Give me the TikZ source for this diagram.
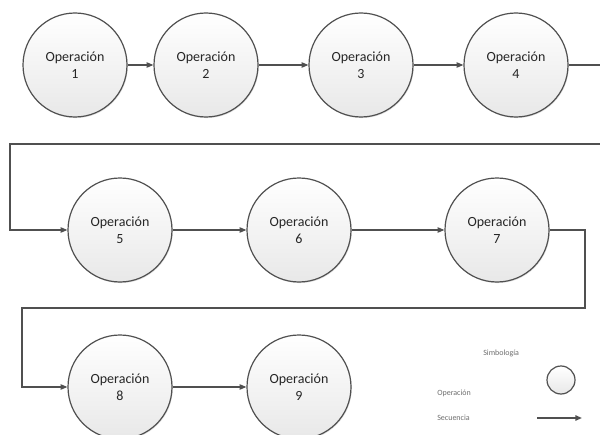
\documentclass[tikz,border=0pt]{standalone}
\usepackage{fontspec}
\setmainfont{Carlito}
\definecolor{edgegray}{RGB}{80,80,80}
\definecolor{fillgray}{RGB}{232,232,232}
\definecolor{legendgray}{RGB}{110,110,110}
\usetikzlibrary{positioning, arrows.meta, shadows}

\begin{document}
\begin{tikzpicture}[
    x=0.75pt, y=-0.75pt,
    oper/.style={circle, draw=edgegray, line width=0.9pt, top color=white, bottom color=fillgray,
      drop shadow={shadow xshift=0.6pt, shadow yshift=-0.8pt, fill=black!25},
      minimum size=78pt, inner sep=0pt, align=center, font=\fontsize{10.5}{12.5}\selectfont, text=black!85},
    seq/.style={draw=edgegray, line width=0.8pt, -{Triangle[length=5pt, width=4pt]}},
    legtext/.style={font=\fontsize{6}{7}\selectfont, text=legendgray, anchor=west, inner sep=0pt},
  ]
    \useasboundingbox (0,0) rectangle (600,435);
    % first row
    \node[oper] (c1) at (75, 65) {Operación\\1};
    \node[oper] (c2) at (206, 65) {Operación\\2};
    \node[oper] (c3) at (361, 65) {Operación\\3};
    \node[oper] (c4) at (516, 65) {Operación\\4};
    % second row
    \node[oper] (c5) at (120, 230) {Operación\\5};
    \node[oper] (c6) at (299, 230) {Operación\\6};
    \node[oper] (c7) at (497, 230) {Operación\\7};
    % third row
    \node[oper] (c8) at (120, 387) {Operación\\8};
    \node[oper] (c9) at (299, 387) {Operación\\9};

    % turning points
    \coordinate (t1) at (612, 144);
    \coordinate (t2) at (10, 144);
    \coordinate (t3) at (585, 308);
    \coordinate (t4) at (22, 308);

    \draw[seq] (c1) -- (c2);
    \draw[seq] (c2) -- (c3);
    \draw[seq] (c3) -- (c4);
    \draw[seq] (c4) -| (t1) -- (t2) |- (c5);
    \draw[seq] (c5) -- (c6);
    \draw[seq] (c6) -- (c7);
    \draw[seq] (c7) -| (t3) -- (t4) |- (c8);
    \draw[seq] (c8) -- (c9);

    % legend
    \node[legtext] (simb) at (483, 353) {Simbología};
    \node[legtext] (lop) at (437, 393) {Operación};
    \node[legtext] (lseq) at (437, 418) {Secuencia};
    \node[circle, draw=edgegray, line width=0.9pt, top color=white, bottom color=fillgray,
      minimum size=21pt, inner sep=0pt] (symop) at (561, 380) {};
    \coordinate (sa) at (537, 418);
    \coordinate (sb) at (582, 418);
    \draw[seq, line width=1.2pt] (sa) -- (sb);
  \end{tikzpicture}
\end{document}
